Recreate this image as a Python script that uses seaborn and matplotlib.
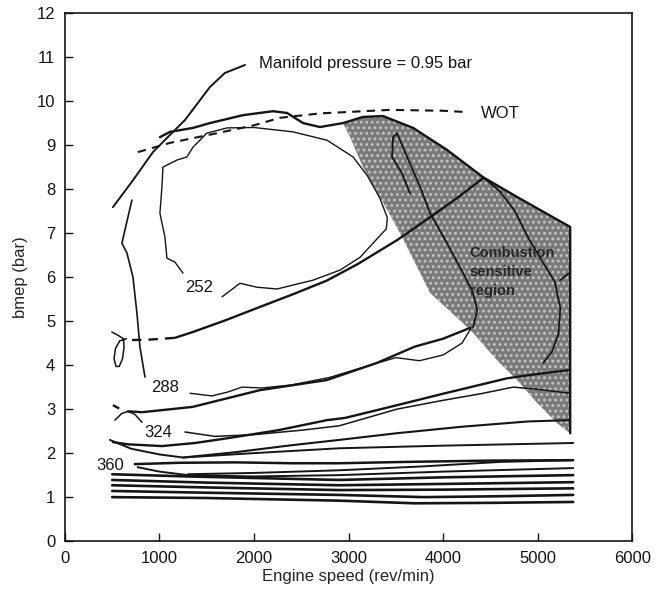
import matplotlib
matplotlib.use("Agg")
import matplotlib.pyplot as plt
import seaborn as sns

# axis ticks
x_ticks = [0, 1000, 2000, 3000, 4000, 5000, 6000]
y_ticks = list(range(0, 13))

# wide open throttle (dashed)
wot_rpm = [772, 1111, 1608, 2000, 2275, 2700, 3439, 4000, 4254]
wot_bmep = [8.84, 9.05, 9.27, 9.45, 9.62, 9.72, 9.8, 9.78, 9.75]

# manifold pressure = 0.95 bar line (runs into the label)
mp_rpm = [508, 720, 931, 1111, 1270, 1397, 1534, 1693, 1905]
mp_bmep = [7.59, 8.2, 8.84, 9.23, 9.57, 9.93, 10.32, 10.64, 10.82]

# max torque line
top_rpm = [1005, 1111, 1354, 1534, 1884, 2201, 2349, 2519, 2698, 2942]
top_bmep = [9.18, 9.3, 9.39, 9.5, 9.68, 9.77, 9.73, 9.5, 9.41, 9.5]

# combustion sensitive region outline
shade_rpm = [2942, 3153, 3365, 3683, 4042, 4423, 4783, 5344, 5344, 5206, 4995,
             4783, 4571, 4317, 4212, 3862, 3725, 3545, 3333, 3153, 3016]
shade_bmep = [9.5, 9.64, 9.66, 9.39, 8.89, 8.27, 7.82, 7.14, 2.45, 2.68, 3.14,
              3.66, 4.11, 4.73, 4.95, 5.64, 6.23, 7.0, 7.82, 8.5, 9.18]
edge_rpm = [2942, 3153, 3365, 3683, 4042, 4423, 4783, 5344, 5344]
edge_bmep = [9.5, 9.64, 9.66, 9.39, 8.89, 8.27, 7.82, 7.14, 2.45]

# bsfc 252 g/kWh contour
c252_rpm = [1249, 1164, 1079, 1058, 1005, 1026, 1037, 1185, 1290, 1354, 1500,
            1714, 2000, 2413, 2773, 3048, 3200, 3330, 3410, 3400, 3259, 3122,
            2910, 2624, 2243, 2032, 1852, 1661]
c252_bmep = [6.09, 6.34, 6.43, 6.91, 7.45, 8.05, 8.5, 8.66, 8.73, 8.95, 9.27,
             9.39, 9.4, 9.3, 9.11, 8.73, 8.3, 7.8, 7.35, 7.1, 6.77, 6.45, 6.16,
             5.93, 5.73, 5.77, 5.86, 5.55]

# left thin line and small loop
vl_rpm = [709, 635, 603, 656, 720, 762, 794, 847]
vl_bmep = [7.75, 7.07, 6.77, 6.55, 6.0, 5.18, 4.41, 3.73]
loop_rpm = [497, 560, 620, 625, 610, 575, 540, 520, 535, 580, 650]
loop_bmep = [4.75, 4.68, 4.6, 4.4, 4.15, 3.97, 3.97, 4.15, 4.38, 4.55, 4.6]

# upper thick line
t1d_rpm = [709, 900, 1164]
t1d_bmep = [4.57, 4.58, 4.62]
t1_rpm = [1164, 1350, 1700, 2060, 2400, 2770, 3100, 3513, 3862, 4150, 4423]
t1_bmep = [4.62, 4.75, 5.02, 5.32, 5.6, 5.92, 6.3, 6.84, 7.36, 7.8, 8.25]

# second thick line
t2d_rpm = [508, 603]
t2d_bmep = [3.09, 2.98]
t2_rpm = [667, 815, 1350, 2060, 2770, 3300, 3700, 4000, 4290]
t2_bmep = [2.95, 2.93, 3.05, 3.43, 3.66, 4.05, 4.42, 4.6, 4.85]
arc_rpm = [529, 600, 667, 740, 815]
arc_bmep = [2.75, 2.9, 2.95, 2.88, 2.7]

# 288 contour
c288_rpm = [1323, 1556, 1725, 1873, 2085, 2400, 2800, 3200, 3500, 3750, 4000, 4200, 4290]
c288_bmep = [3.36, 3.3, 3.39, 3.5, 3.48, 3.55, 3.72, 3.98, 4.17, 4.1, 4.23, 4.5, 4.82]

# lines inside shaded region
fg_rpm = [3650, 3566, 3460, 3471, 3513, 3619, 3757, 3862, 4042, 4212, 4317, 4360, 4317]
fg_bmep = [7.9, 8.36, 8.73, 9.18, 9.27, 8.73, 8.05, 7.45, 6.77, 6.09, 5.64, 5.25, 4.86]
rc_rpm = [4423, 4600, 4760, 4900, 5050, 5180, 5240, 5220, 5150, 5060]
rc_bmep = [8.27, 7.95, 7.5, 6.9, 6.35, 5.9, 5.3, 4.7, 4.3, 4.05]
stub_rpm = [5238, 5344]
stub_bmep = [5.93, 6.11]

# third thick line and 324 contour
t3_rpm = [508, 667, 1026, 1376, 1725, 2254, 2773, 2963, 3439, 4000, 4677, 5000, 5344]
t3_bmep = [2.25, 2.2, 2.16, 2.23, 2.34, 2.52, 2.75, 2.8, 3.05, 3.35, 3.7, 3.8, 3.89]
c324_rpm = [1270, 1587, 2000, 2500, 2900, 3513, 4000, 4400, 4741, 5000, 5344]
c324_bmep = [2.48, 2.38, 2.42, 2.52, 2.62, 3.0, 3.2, 3.35, 3.5, 3.45, 3.36]

# 360 contour and lower lines
m1_rpm = [1250, 1800, 2400, 2900, 3500, 4200, 4900, 5344]
m1_bmep = [1.9, 2.02, 2.18, 2.3, 2.45, 2.6, 2.72, 2.75]
m2_rpm = [476, 700, 1000, 1250, 2000, 2900, 4000, 5376]
m2_bmep = [2.3, 2.1, 1.97, 1.9, 2.0, 2.11, 2.17, 2.23]
t4_rpm = [740, 1200, 1800, 2400, 2900, 3600, 4500, 5376]
t4_bmep = [1.75, 1.78, 1.79, 1.77, 1.77, 1.8, 1.83, 1.84]
b7_rpm = [1300, 2000, 2900, 3800, 4600, 5376]
b7_bmep = [1.52, 1.55, 1.61, 1.7, 1.8, 1.84]
b6_rpm = [770, 1000, 1300, 2000, 2900, 4000, 5376]
b6_bmep = [1.68, 1.58, 1.5, 1.47, 1.5, 1.58, 1.66]
b5_rpm = [500, 1300, 2900, 4000, 5376]
b5_bmep = [1.52, 1.47, 1.39, 1.45, 1.5]
b4_rpm = [500, 1500, 2900, 4000, 5376]
b4_bmep = [1.39, 1.33, 1.27, 1.3, 1.34]
b3_rpm = [500, 1500, 2900, 4000, 5376]
b3_bmep = [1.27, 1.22, 1.16, 1.17, 1.2]
b2_rpm = [500, 1500, 2900, 3800, 4600, 5376]
b2_bmep = [1.14, 1.1, 1.05, 1.0, 1.02, 1.05]
b1_rpm = [500, 1500, 2900, 3700, 4500, 5376]
b1_bmep = [1.0, 0.98, 0.92, 0.86, 0.87, 0.89]

ink = "#151515"

sns.set_style("ticks")
plt.rcParams["font.family"] = ["Liberation Sans", "DejaVu Sans"]
plt.rcParams["hatch.linewidth"] = 1.3

fig = plt.figure(figsize=(6.69, 5.94), dpi=100)
ax = fig.add_axes([0.097, 0.089, 0.848, 0.889])


def draw(rpm, bmep, lw=1.7, ls="-"):
    sns.lineplot(x=rpm, y=bmep, sort=False, estimator=None, ax=ax,
                 color=ink, linewidth=lw, linestyle=ls)


# shaded region, dark grey with a light stipple
ax.fill(shade_rpm, shade_bmep, facecolor="#7a7a7a", edgecolor="#c4c4c4",
        hatch="...", linewidth=0, zorder=1)

draw(edge_rpm, edge_bmep, 1.7)
draw(wot_rpm, wot_bmep, 1.5, (0, (4, 3)))
draw(mp_rpm, mp_bmep, 1.4)
draw(top_rpm, top_bmep, 1.7)
draw(c252_rpm, c252_bmep, 1.0)
draw(vl_rpm, vl_bmep, 1.2)
draw(loop_rpm, loop_bmep, 1.1)
draw(t1d_rpm, t1d_bmep, 1.7, (0, (4, 3)))
draw(t1_rpm, t1_bmep, 1.7)
draw(t2d_rpm, t2d_bmep, 1.7, (0, (3, 2)))
draw(t2_rpm, t2_bmep, 1.7)
draw(arc_rpm, arc_bmep, 1.1)
draw(c288_rpm, c288_bmep, 1.0)
draw(fg_rpm, fg_bmep, 1.3)
draw(rc_rpm, rc_bmep, 1.3)
draw(stub_rpm, stub_bmep, 1.3)
draw(t3_rpm, t3_bmep, 1.7)
draw(c324_rpm, c324_bmep, 1.1)
draw(m1_rpm, m1_bmep, 1.5)
draw(m2_rpm, m2_bmep, 1.4)
draw(t4_rpm, t4_bmep, 1.8)
draw(b7_rpm, b7_bmep, 1.4)
draw(b6_rpm, b6_bmep, 1.4)
for r, b in [(b5_rpm, b5_bmep), (b4_rpm, b4_bmep), (b3_rpm, b3_bmep),
             (b2_rpm, b2_bmep), (b1_rpm, b1_bmep)]:
    draw(r, b, 1.9)

# labels on the chart
ax.text(2050, 10.86, "Manifold pressure = 0.95 bar", fontsize=12, va="center", color=ink)
ax.text(4400, 9.72, "WOT", fontsize=12, va="center", color=ink)
ax.text(1418, 5.77, "252", fontsize=12, ha="center", va="center", color=ink)
ax.text(1058, 3.48, "288", fontsize=12, ha="center", va="center", color=ink)
ax.text(984, 2.48, "324", fontsize=12, ha="center", va="center", color=ink)
ax.text(476, 1.72, "360", fontsize=12, ha="center", va="center", color=ink)
ax.text(4280, 6.12, "Combustion\nsensitive\nregion", fontsize=10.5, fontweight="bold",
        va="center", ha="left", color="#262626", linespacing=1.45)

ax.set_xlim(0, 6000)
ax.set_ylim(0, 12)
ax.set_xticks(x_ticks)
ax.set_yticks(y_ticks)
ax.tick_params(direction="in", length=6, width=1, labelsize=12, colors=ink,
               top=False, right=False, pad=7)
for s in ax.spines.values():
    s.set_linewidth(1.2)
    s.set_color(ink)
ax.set_xlabel("Engine speed (rev/min)", fontsize=12, labelpad=2)
ax.set_ylabel("bmep (bar)", fontsize=12, labelpad=6)

fig.savefig("out.png", dpi=100)
